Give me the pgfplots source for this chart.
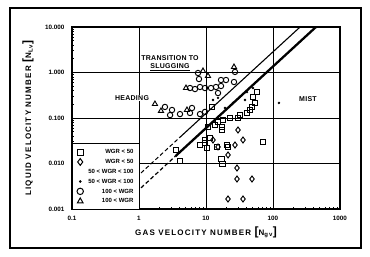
\documentclass[border=0pt]{standalone}
\usepackage{pgfplots}
\pgfplotsset{compat=1.18}
\usepackage{fontspec}
\setmainfont{Liberation Sans}
\newfontfamily\lab[LetterSpace=15]{Liberation Sans}
\newfontfamily\ann[LetterSpace=4]{Liberation Sans}
\begin{document}
\begin{tikzpicture}[x=1pt,y=1pt]
\useasboundingbox (0,0) rectangle (370,257);
\draw[line width=1.3pt] (10,9) rectangle (361,249);
\begin{axis}[
  at={(72pt,48pt)}, anchor=south west,
  scale only axis, width=268pt, height=182pt,
  xmode=log, ymode=log,
  xmin=0.1, xmax=1000, ymin=0.001, ymax=10,
  xtick={0.1,1,10,100,1000}, xticklabels={0.1,1,10,100,1000},
  ytick={0.001,0.01,0.1,1,10}, yticklabels={0.001,0.010,0.100,1.000,10.000},
  tick pos=left, tick align=inside,
  major tick length=5pt, minor tick length=2.5pt,
  axis line style={line width=1.1pt},
  every tick/.style={line width=0.7pt, black},
  grid=major, major grid style={line width=0.6pt, black},
  ticklabel style={font=\fontsize{6.3}{7}\selectfont\bfseries},
  xticklabel style={yshift=-3.5pt},
  yticklabel style={xshift=-4pt},
  xlabel={\lab\fontsize{8}{9}\selectfont\bfseries GAS VELOCITY NUMBER {\fontsize{12}{12}\selectfont[}N\textsubscript{gv}{\fontsize{12}{12}\selectfont]}},
  ylabel={\lab\fontsize{8}{9}\selectfont\bfseries LIQUID VELOCITY NUMBER {\fontsize{12}{12}\selectfont[}N\textsubscript{Lv}{\fontsize{12}{12}\selectfont]}},
  xlabel style={at={(axis description cs:0.5,-0.126)}, anchor=center},
  ylabel style={at={(axis description cs:-0.164,0.5)}, anchor=center},
  legend style={at={(axis cs:0.1,0.0282)}, anchor=north west, draw=none, fill=none, xshift=-3pt,
    font=\fontsize{6}{7}\selectfont\bfseries, inner xsep=2.5pt, inner ysep=5.2pt, row sep=2.3pt,
    nodes={inner sep=1pt, text height=4.5pt, text depth=1pt}},
  legend cell align=right,
]
% legend box
\draw[line width=0.9pt, fill=white] (axis cs:0.1,0.001) rectangle (axis cs:1,0.0282);

\addlegendimage{only marks, mark=square, mark size=3pt, mark options={line width=1pt}}
\addlegendentry{\makebox[49pt][r]{WGR < 50}}
\addlegendimage{only marks, mark=diamond, mark size=3.4pt, mark options={line width=1pt}}
\addlegendentry{\makebox[49pt][r]{WGR < 50}}
\addlegendimage{empty legend}
\addlegendentry{\makebox[49pt][r]{50 < WGR < 100}}
\addlegendimage{only marks, mark=*, mark size=1.1pt}
\addlegendentry{\makebox[49pt][r]{50 < WGR < 100}}
\addlegendimage{only marks, mark=o, mark size=3.2pt, mark options={line width=1pt}}
\addlegendentry{\makebox[49pt][r]{100 < WGR}}
\addlegendimage{only marks, mark=triangle, mark size=3.2pt, mark options={line width=1pt}}
\addlegendentry{\makebox[49pt][r]{100 < WGR}}

% transition lines
\addplot[forget plot, line width=1pt, dash pattern=on 4pt off 2.5pt] coordinates {(1.07,0.00619) (4,0.0367)};
\addplot[forget plot, line width=1.1pt] coordinates {(4,0.0367) (253.6,10)};
\addplot[forget plot, line width=1.2pt, dash pattern=on 4pt off 2.5pt] coordinates {(1.07,0.00291) (3.5,0.0145)};
\addplot[forget plot, line width=2.3pt] coordinates {(3.5,0.0145) (437.5,10)};

% squares
\addplot[forget plot, only marks, mark=square, mark size=2.6pt, mark options={line width=0.95pt, fill=white}] coordinates {
(10.71,0.0634) (13.62,0.0701) (17.33,0.0634) (11.47,0.0363) (9.66,0.0282) (10.35,0.0219)
(14.60,0.0231) (20.58,0.0255) (17.0,0.0125) (17.6,0.0098) (17.33,0.0544) (8.14,0.0255)
(9.66,0.0328) (21.31,0.0231) (70.92,0.0297) (3.57,0.0198) (4.09,0.0114) (15.11,0.0817)
(17.94,0.0904) (22.82,0.100) (30.04,0.100) (32.18,0.116) (40.93,0.129) (45.37,0.150)
(48.61,0.175) (53.87,0.214) (50.29,0.290) (57.71,0.372) (12.3,0.175)
};
% diamonds
\addplot[forget plot, only marks, mark=diamond, mark size=3pt, mark options={line width=0.95pt, fill=white}] coordinates {
(15.11,0.0231) (12.72,0.0328) (27.10,0.0255) (35.67,0.0328) (21.31,0.0154) (29.03,0.00796)
(29.03,0.00456) (48.61,0.00456) (21.31,0.00166) (35.67,0.00166) (30.04,0.0544)
};
% circles
\addplot[forget plot, only marks, mark=o, mark size=2.7pt, mark options={line width=0.95pt, fill=white}] coordinates {
(2.44,0.175) (3.11,0.150) (2.91,0.116) (4.09,0.122) (5.77,0.129) (8.14,0.122) (9.66,0.136)
(6.18,0.166) (7.60,0.975) (7.86,0.719) (5.77,0.456) (6.85,0.433) (8.14,0.480) (9.66,0.456)
(11.88,0.456) (14.10,0.480) (16.75,0.505) (16.75,0.684) (19.89,0.684) (26.18,0.618)
(27.10,1.03) (15.11,0.354)
};
% triangles
\addplot[forget plot, only marks, mark=triangle, mark size=3pt, mark options={line width=0.95pt, fill=white}] coordinates {
(1.73,0.203) (2.13,0.143) (5.20,0.150) (9.02,1.08) (10.71,0.838) (26.18,1.32) (5.03,0.456)
};
% dots
\addplot[forget plot, only marks, mark=*, mark size=1pt] coordinates {
(12.72,0.249) (15.11,0.276) (19.21,0.166) (25.29,0.214) (32.18,0.290) (38.21,0.249)
(40.93,0.372) (50.29,0.456) (122.9,0.214)
};

% annotations
\node[font=\ann\fontsize{7}{8}\selectfont\bfseries] at (axis cs:2.90,2.08) {TRANSITION TO};
\node[font=\ann\fontsize{7}{8}\selectfont\bfseries] at (axis cs:2.90,1.32) {\underline{SLUGGING}};
\node[font=\ann\fontsize{7}{8}\selectfont\bfseries, fill=white, inner sep=1pt] at (axis cs:0.786,0.275) {HEADING};
\node[font=\ann\fontsize{7}{8}\selectfont\bfseries, fill=white, inner sep=1pt] at (axis cs:333,0.262) {MIST};
\end{axis}
\end{tikzpicture}
\end{document}
